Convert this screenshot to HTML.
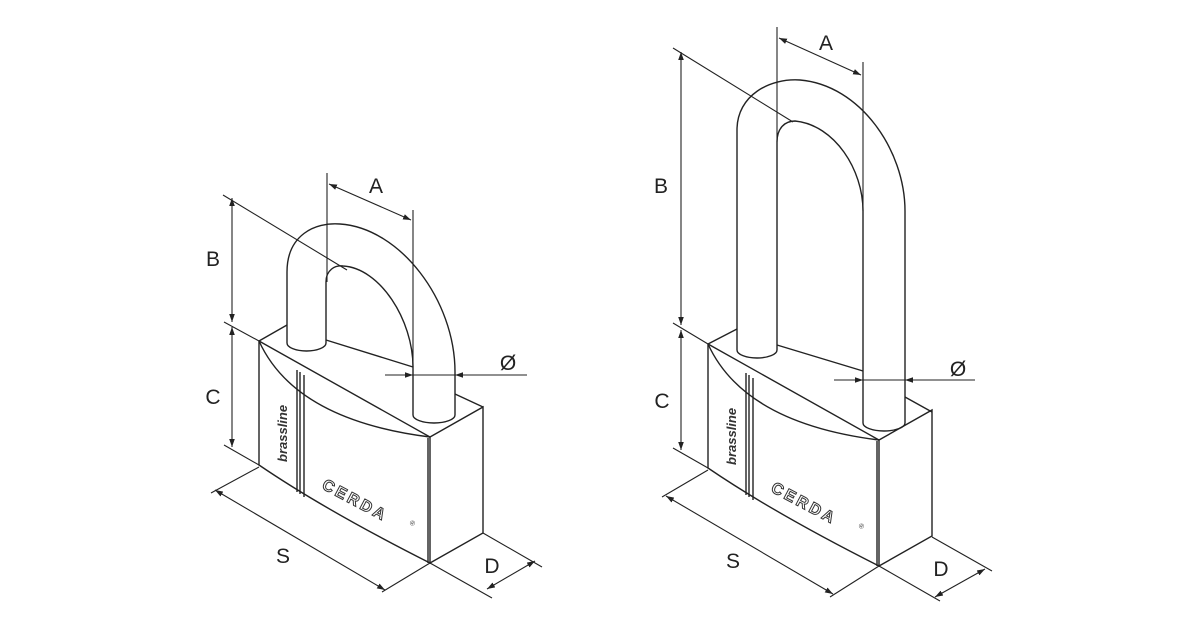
<!DOCTYPE html>
<html><head><meta charset="utf-8"><style>
html,body{margin:0;padding:0;background:#fff;}
svg{display:block;}
text{font-family:"Liberation Sans",sans-serif;fill:#222;}
</style></head><body>
<svg width="1200" height="630" viewBox="0 0 1200 630" xmlns="http://www.w3.org/2000/svg">
<defs>
<marker id="ar" viewBox="0 0 10 10" refX="10" refY="5" markerWidth="8" markerHeight="8" orient="auto-start-reverse" markerUnits="userSpaceOnUse">
<path d="M0,1.5 L10,5 L0,8.5 Z" fill="#222"/>
</marker>
<g id="body">
<path d="M259,341 L259,465 Q325,510 430,563 L430,437 L259,341" />
<path d="M259,341 Q295,420 430,437" />
<path d="M428,438 L428,563" />
<path d="M430,437 L483,407 L483,533 L430,563" />
<path d="M297,370 L297,492 M300,372 L300,494 M304,375 L304,497" />
<text x="0" y="0" transform="translate(287,462) rotate(-90)" font-size="13" font-weight="bold" font-style="italic" style="fill:#333;stroke:none">brassline</text>
<text x="0" y="0" transform="translate(321,488) rotate(28)" font-size="16" font-weight="bold" letter-spacing="3" style="fill:#fff;stroke:#333;stroke-width:1">CERDA</text>
<text x="0" y="0" transform="translate(409,524) rotate(28)" font-size="7" style="fill:#333;stroke:none">®</text>
</g>
</defs>
<g fill="none" stroke="#222" stroke-width="1.4">
<!-- LEFT LOCK -->
<use href="#body"/>
<path d="M259,341 L287,325" />
<path d="M326,340 L413,367 M455,394 L483,407" />
<path d="M287,343 L287,272 C287,235 315,222 340,224 C400,228 455,300 455,372 L455,415" />
<path d="M326,343 L326,282 C326,270 335,265 343,266 C380,268 413,320 413,367 L413,415" />
<path d="M287,343 A19.5,8 0 0 0 326,343" />
<path d="M413,415 A21,8 0 0 0 455,415" />
<path d="M327,173 L327,282 M413,210 L413,367" stroke-width="1.1"/>
<path d="M329,184 L411,220" marker-start="url(#ar)" marker-end="url(#ar)" stroke-width="1.1"/>
<path d="M223,195 L347,270" stroke-width="1.1"/>
<path d="M232,198 L232,322" marker-start="url(#ar)" marker-end="url(#ar)" stroke-width="1.1"/>
<path d="M232,327 L232,447" marker-start="url(#ar)" marker-end="url(#ar)" stroke-width="1.1"/>
<path d="M224,322 L259,341 M224,445 L259,465" stroke-width="1.1"/>
<path d="M385,375 L413,375" marker-end="url(#ar)" stroke-width="1.1"/>
<path d="M527,375 L455,375" marker-end="url(#ar)" stroke-width="1.1"/>
<path d="M413,375 L455,375" stroke-width="1.1"/>
<path d="M259,467 L211,493 M430,563 L382,592" stroke-width="1.1"/>
<path d="M215,490 L385,590" marker-start="url(#ar)" marker-end="url(#ar)" stroke-width="1.1"/>
<path d="M483,533 L542,567 M430,563 L492,598" stroke-width="1.1"/>
<path d="M487,589 L535,561" marker-start="url(#ar)" marker-end="url(#ar)" stroke-width="1.1"/>

<!-- RIGHT LOCK -->
<use href="#body" transform="translate(449,3)"/>
<path d="M708,344 L737,329" />
<path d="M777,345 L863,371 M905,397 L932,412" />
<path d="M737,350 L737,130 C737,95 770,78 800,80 C860,85 905,150 905,211 L905,423" />
<path d="M777,350 L777,142 C777,128 785,121 795,121 C835,125 863,170 863,211 L863,423" />
<path d="M737,350 A20,8 0 0 0 777,350" />
<path d="M863,423 A21,8 0 0 0 905,423" />
<path d="M777,27 L777,142 M863,62 L863,211" stroke-width="1.1"/>
<path d="M779,38 L861,75" marker-start="url(#ar)" marker-end="url(#ar)" stroke-width="1.1"/>
<path d="M673,48 L793,122" stroke-width="1.1"/>
<path d="M681,52 L681,325" marker-start="url(#ar)" marker-end="url(#ar)" stroke-width="1.1"/>
<path d="M681,330 L681,450" marker-start="url(#ar)" marker-end="url(#ar)" stroke-width="1.1"/>
<path d="M673,323 L708,344 M673,448 L708,468" stroke-width="1.1"/>
<path d="M834,380 L863,380" marker-end="url(#ar)" stroke-width="1.1"/>
<path d="M975,380 L905,380" marker-end="url(#ar)" stroke-width="1.1"/>
<path d="M863,380 L905,380" stroke-width="1.1"/>
<path d="M708,470 L662,497 M879,566 L830,597" stroke-width="1.1"/>
<path d="M666,496 L833,594" marker-start="url(#ar)" marker-end="url(#ar)" stroke-width="1.1"/>
<path d="M932,537 L992,571 M879,566 L940,601" stroke-width="1.1"/>
<path d="M935,597 L985,569" marker-start="url(#ar)" marker-end="url(#ar)" stroke-width="1.1"/>
</g>
<g font-size="21" text-anchor="middle">
<text x="376" y="193">A</text>
<text x="213" y="266">B</text>
<text x="213" y="404">C</text>
<text x="508" y="370">Ø</text>
<text x="283" y="563">S</text>
<text x="492" y="573">D</text>
<text x="826" y="50">A</text>
<text x="661" y="193">B</text>
<text x="662" y="408">C</text>
<text x="958" y="376">Ø</text>
<text x="733" y="568">S</text>
<text x="941" y="576">D</text>
</g>
</svg>
</body></html>
